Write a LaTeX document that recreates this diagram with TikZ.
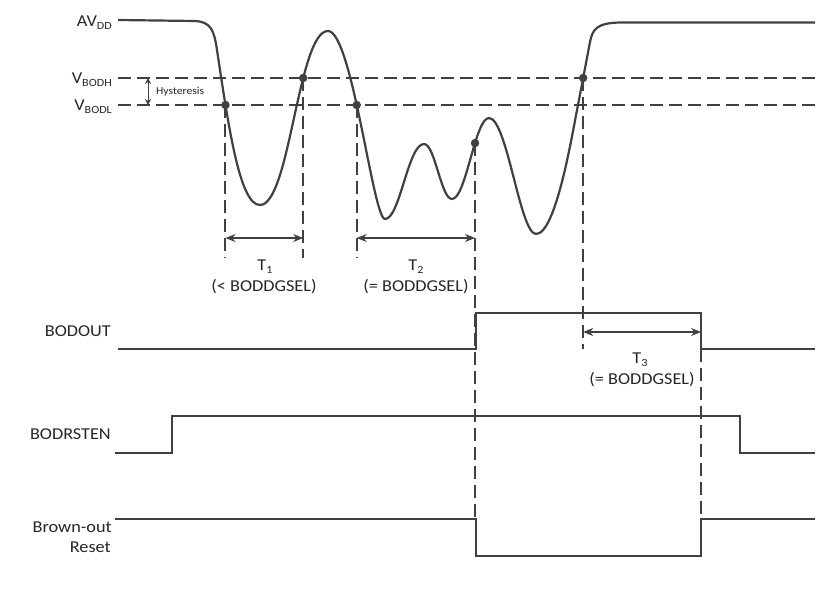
\documentclass[tikz,border=0pt]{standalone}
\usepackage{fontspec}
\setmainfont{Carlito}[FakeStretch=1.1]
\usetikzlibrary{arrows.meta,intersections}
\definecolor{ink}{HTML}{404040}
\newcommand\lsub[1]{\raisebox{-3pt}{\fontsize{11}{12}\selectfont #1}}
\begin{document}
\begin{tikzpicture}[x=1pt,y=-1pt,
  sig/.style={draw=ink, line width=2pt, line join=miter},
  wave/.style={draw=ink, line width=2.2pt},
  dashline/.style={draw=ink, line width=2pt, dash pattern=on 13pt off 6pt},
  dimarrow/.style={draw=ink, line width=1.2pt, {Stealth[length=10pt,width=8pt]}-{Stealth[length=10pt,width=8pt]}},
  hysarrow/.style={draw=ink, line width=1pt, {Stealth[length=6pt,width=6pt]}-{Stealth[length=6pt,width=6pt]}},
  lbl/.style={font=\fontsize{16.6}{20}\selectfont, text=black!85, inner sep=0pt},
  smalllbl/.style={font=\fontsize{10.6}{13}\selectfont, text=black!85, inner sep=0pt},
  dotmark/.style={circle, fill=ink, inner sep=0pt, minimum size=8.5pt},
]
\useasboundingbox (0,0) rectangle (819,607);

% left labels
\node[lbl, anchor=base east] (avdd) at (112,27) {AV\lsub{DD}};
\node[lbl, anchor=base east] (vbodh) at (112,84) {V\lsub{BODH}};
\node[lbl, anchor=base east] (vbodl) at (112,111) {V\lsub{BODL}};
\node[lbl, anchor=base east] (bodout) at (111,336) {BODOUT};
\node[lbl, anchor=base east] (bodrsten) at (111,439) {BODRSTEN};
\node[lbl, anchor=base east] (bor1) at (112,532) {Brown-out};
\node[lbl, anchor=base east] (bor2) at (111,552) {Reset};

% threshold lines
\coordinate (hL) at (118,78);
\coordinate (hR) at (815,78);
\coordinate (lL) at (118,105);
\coordinate (lR) at (815,105);
\path[dashline, name path=bodh] (hL) -- (hR);
\path[dashline, name path=bodl] (lL) -- (lR);

% hysteresis
\coordinate (hysT) at (148,78);
\coordinate (hysB) at (148,105);
\draw[hysarrow] (hysT) -- (hysB);
\node[smalllbl, anchor=west] (hys) at (156,92) {Hysteresis};

% waveform
\path[wave, name path=wave] (118,20) -- (195,21)
  .. controls (211,22) and (214,30) .. (217,50)
  .. controls (229,130) and (240,205) .. (260,205)
  .. controls (290,205) and (298,31) .. (328,31)
  .. controls (352,31) and (373,219) .. (385,219)
  .. controls (400,219) and (408,144) .. (424,144)
  .. controls (435,144) and (441,199) .. (452,199)
  .. controls (466,199) and (475,118) .. (489,118)
  .. controls (507,118) and (520,234) .. (536,234)
  .. controls (556,234) and (572,135) .. (578,105)
  -- (590,42)
  .. controls (592.5,29) and (597,23) .. (620,22.5)
  -- (815,22.5);

\path[name path=vline] (475,100) -- (475,230);
\path[name intersections={of=wave and bodl, sort by=wave, name=L}];
\path[name intersections={of=wave and bodh, sort by=wave, name=H}];
\path[name intersections={of=wave and vline, name=V}];

% reference levels
\coordinate (dimbot) at (0,258);
\coordinate (arry) at (0,238);
\coordinate (outlo) at (0,349);
\coordinate (outhi) at (0,313);
\coordinate (rsthi) at (0,519);
\coordinate (t3y) at (0,332);

% BODOUT
\coordinate (o0) at (118,349);
\coordinate (orise) at (476,349);
\coordinate (ofall) at (701,313);
\coordinate (o1) at (815,349);
\draw[sig] (o0) -- (orise) -- (476,313) -- (ofall) -- (701,349) -- (o1);

% BODRSTEN
\coordinate (r0) at (115,453);
\coordinate (r1) at (815,453);
\draw[sig] (r0) -- (172,453) -- (172,416) -- (740,416) -- (740,453) -- (r1);

% Brown-out reset
\coordinate (b0) at (115,519);
\coordinate (b1) at (815,519);
\draw[sig] (b0) -- (476,519) -- (476,556) -- (701,556) -- (701,519) -- (b1);

% vertical dashed
\draw[dashline] (L-1) -- (L-1 |- dimbot);
\draw[dashline] (H-2) -- (H-2 |- dimbot);
\draw[dashline] (L-3) -- (L-3 |- dimbot);
\draw[dashline] (V-1) -- (V-1 |- rsthi);
\draw[dashline] (H-4) -- (H-4 |- outlo);
\draw[dashline] (701,349) -- (ofall |- rsthi);

% dimension arrows
\draw[dimarrow] (L-1 |- arry) -- (H-2 |- arry);
\draw[dimarrow] (L-3 |- arry) -- (V-1 |- arry);
\draw[dimarrow] (H-4 |- t3y) -- (ofall |- t3y);

\node[lbl, anchor=base] (t1) at (265,270) {T\lsub{1}};
\node[lbl, anchor=base] (t1s) at (264,291) {(< BODDGSEL)};
\node[lbl, anchor=base] (t2) at (416,270) {T\lsub{2}};
\node[lbl, anchor=base] (t2s) at (416,291) {(= BODDGSEL)};
\node[lbl, anchor=base] (t3) at (640,363) {T\lsub{3}};
\node[lbl, anchor=base] (t3s) at (642,384) {(= BODDGSEL)};

% dots
\node[dotmark] (d1) at (L-1) {};
\node[dotmark] (d2) at (H-2) {};
\node[dotmark] (d3) at (L-3) {};
\node[dotmark] (d4) at (V-1) {};
\node[dotmark] (d5) at (H-4) {};
\end{tikzpicture}
\end{document}
